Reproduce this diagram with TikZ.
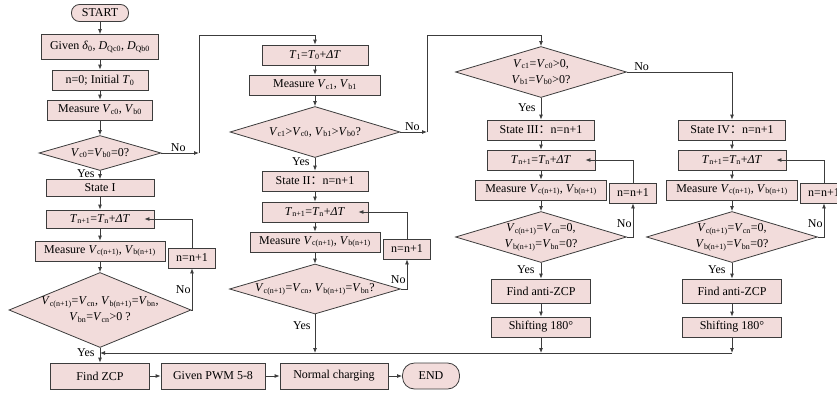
\documentclass[tikz,border=0pt]{standalone}
\usepackage{fontspec}
\setmainfont{Liberation Serif}
\newfontfamily\cjk{Noto Sans CJK SC}
\usetikzlibrary{shapes.geometric,arrows.meta}
\definecolor{boxpink}{RGB}{242,220,219}
\definecolor{linegray}{RGB}{60,60,60}
\newcommand{\vsub}[2]{\textit{#1}\textsubscript{#2}}
\newcommand{\wcolon}{{\cjk ：}}
\newcommand{\tnext}{\vsub{T}{n+1}=\vsub{T}{n}+\textit{ΔT}}
\newcommand{\measn}{Measure \vsub{V}{c(n+1)}, \vsub{V}{b(n+1)}}

\begin{document}
\begin{tikzpicture}[x=1pt, y=-1pt, font=\fontsize{12}{14}\selectfont]
  \tikzset{
    proc/.style={draw=linegray, fill=boxpink, line width=0.8pt, minimum height=20pt, inner sep=1pt},
    term/.style={proc, rounded corners=8pt, minimum height=17pt},
    decide/.style={draw=linegray, fill=boxpink, line width=0.8pt, diamond, aspect=3.4,
      inner xsep=-30pt, inner ysep=-8pt, align=center, font=\fontsize{12}{16}\selectfont},
    flow/.style={draw=linegray, line width=0.8pt, -{Latex[length=5pt,width=4pt]}},
    lbl/.style={inner sep=1pt}
  }
  \useasboundingbox (0,0) rectangle (837,394);

  % state I column
  \node[term, minimum width=57pt] (start) at (100,13) {START};
  \node[proc, minimum width=117pt, minimum height=25pt] (given) at (100,47) {Given \textit{δ}\textsubscript{0}, \vsub{D}{Qc0}, \vsub{D}{Qb0}};
  \node[proc, minimum width=96pt] (init) at (100,80) {n=0; Initial \vsub{T}{0}};
  \node[proc, minimum width=105pt] (meas0) at (100,110) {Measure \vsub{V}{c0}, \vsub{V}{b0}};
  \node[decide, minimum width=122pt, minimum height=35pt] (dec0) at (100,153) {\vsub{V}{c0}=\vsub{V}{b0}=0?};
  \node[proc, minimum width=108pt, minimum height=17pt] (st1) at (100,188) {State I};
  \node[proc, minimum width=108pt, minimum height=18pt] (tn1) at (100,219) {\tnext};
  \node[proc, minimum width=130pt] (meas1) at (100,251) {\measn};
  \node[decide, minimum width=182pt, minimum height=75pt] (dec1) at (100,310)
    {\vsub{V}{c(n+1)}=\vsub{V}{cn}, \vsub{V}{b(n+1)}=\vsub{V}{bn},\\\vsub{V}{bn}=\vsub{V}{cn}>0 ?};
  \node[proc, minimum width=47pt] (inc1) at (192,258) {n=n+1};

  \draw[flow] (start) -- (given);
  \draw[flow] (given) -- (init);
  \draw[flow] (init) -- (meas0);
  \draw[flow] (meas0) -- (dec0);
  \draw[flow] (dec0) -- node[lbl, left=4pt, pos=0.3]{Yes} (st1);
  \draw[flow] (st1) -- (tn1);
  \draw[flow] (tn1) -- (meas1);
  \draw[flow] (meas1) -- (dec1);
  \draw[flow] (dec1.east) -| node[lbl, left, pos=0.75]{No} (inc1.south);
  \draw[flow, shorten >=-10pt] (inc1.north) |- (tn1.east);

  % state II column
  \node[proc, minimum width=106pt] (t1) at (315,55) {\vsub{T}{1}=\vsub{T}{0}+\textit{ΔT}};
  \node[proc, minimum width=131pt] (meas2) at (315,85) {Measure \vsub{V}{c1}, \vsub{V}{b1}};
  \node[decide, minimum width=170pt, minimum height=51pt] (dec2) at (315,132) {\vsub{V}{c1}>\vsub{V}{c0}, \vsub{V}{b1}>\vsub{V}{b0}?};
  \node[proc, minimum width=106pt] (st2) at (315,181) {State II\wcolon n=n+1};
  \node[proc, minimum width=106pt] (tn2) at (315,212) {\tnext};
  \node[proc, minimum width=130pt] (meas3) at (315,242) {\measn};
  \node[proc, minimum width=47pt] (inc2) at (407,249) {n=n+1};
  \node[decide, minimum width=171pt, minimum height=50pt] (dec3) at (315,289) {\vsub{V}{c(n+1)}=\vsub{V}{cn}, \vsub{V}{b(n+1)}=\vsub{V}{bn}?};

  \coordinate (jmp1) at (199,153);
  \coordinate (top1) at (315,35);
  \draw[flow] (dec0) -- node[lbl, above, pos=0.45]{No} (jmp1);
  \draw[flow] (jmp1) |- (top1) -- (t1);
  \draw[flow] (t1) -- (meas2);
  \draw[flow] (meas2) -- (dec2);
  \draw[flow] (dec2) -- node[lbl, left=4pt, pos=0.3]{Yes} (st2);
  \draw[flow] (st2) -- (tn2);
  \draw[flow] (tn2) -- (meas3);
  \draw[flow] (meas3) -- (dec3);
  \draw[flow] (dec3.east) -| node[lbl, left, pos=0.65]{No} (inc2.south);
  \draw[flow, shorten >=-10pt] (inc2.north) |- (tn2.east);

  % states III and IV
  \foreach \cx/\nm/\tg in {541/III/a, 732/IV/b} {
    \node[proc, minimum width=107pt] (st\tg) at (\cx,130) {State \nm\wcolon n=n+1};
    \node[proc, minimum width=108pt] (tn\tg) at (\cx,160) {\tnext};
    \node[proc, minimum width=131pt] (meas\tg) at (\cx,190) {\measn};
    \node[proc, minimum width=47pt] (inc\tg) at (\cx+92,193) {n=n+1};
    \node[decide, minimum width=171pt, minimum height=51pt] (dec\tg) at (\cx,237)
      {\vsub{V}{c(n+1)}=\vsub{V}{cn}=0,\\\vsub{V}{b(n+1)}=\vsub{V}{bn}=0?};
    \node[proc, minimum width=99pt, minimum height=24pt] (anti\tg) at (\cx,291) {Find anti-ZCP};
    \node[proc, minimum width=99pt] (shift\tg) at (\cx,327) {Shifting 180°};
    \coordinate (ret\tg) at (\cx,353);
    \draw[flow] (st\tg) -- (tn\tg);
    \draw[flow] (tn\tg) -- (meas\tg);
    \draw[flow] (meas\tg) -- (dec\tg);
    \draw[flow] (dec\tg.east) -| node[lbl, left, pos=0.7]{No} (inc\tg.south);
    \draw[flow, shorten >=-10pt] (inc\tg.north) |- (tn\tg.east);
    \draw[flow] (dec\tg) -- node[lbl, left=5pt, pos=0.4]{Yes} (anti\tg);
    \draw[flow] (anti\tg) -- (shift\tg);
    \draw[flow] (shift\tg) -- (ret\tg);
  }
  \node[decide, minimum width=171pt, minimum height=51pt] (dec4) at (541,72)
    {\vsub{V}{c1}=\vsub{V}{c0}>0,\\\vsub{V}{b1}=\vsub{V}{b0}>0?};
  \coordinate (jmp2) at (427,132);
  \coordinate (top2) at (541,35);
  \draw[flow] (dec2) -- node[lbl, above, pos=0.45]{No} (jmp2);
  \draw[flow] (jmp2) |- (top2) -- (dec4);
  \draw[flow] (dec4) -- node[lbl, left=4pt, pos=0.45]{Yes} (sta);
  \draw[flow] (dec4.east) -| node[lbl, above, pos=0.07]{No} (stb);

  % common end
  \node[proc, minimum width=99pt, minimum height=26pt] (zcp) at (100,376) {Find ZCP};
  \node[proc, minimum width=104pt, minimum height=26pt] (pwm) at (213,376) {Given PWM 5-8};
  \node[proc, minimum width=108pt, minimum height=26pt] (chg) at (334,376) {Normal charging};
  \node[term, minimum width=57pt, minimum height=26pt, rounded corners=12pt] (fin) at (431,376) {END};
  \coordinate (retm) at (315,353);
  \coordinate (ret0) at (100,353);
  \draw[flow] (dec3) -- node[lbl, left=3pt, pos=0.3]{Yes} (retm);
  \draw[flow] (retb) -- (ret0);
  \draw[flow] (dec1) -- node[lbl, left=4pt, pos=0.3]{Yes} (zcp);
  \draw[flow] (zcp) -- (pwm);
  \draw[flow] (pwm) -- (chg);
  \draw[flow] (chg) -- (fin);
\end{tikzpicture}
\end{document}
